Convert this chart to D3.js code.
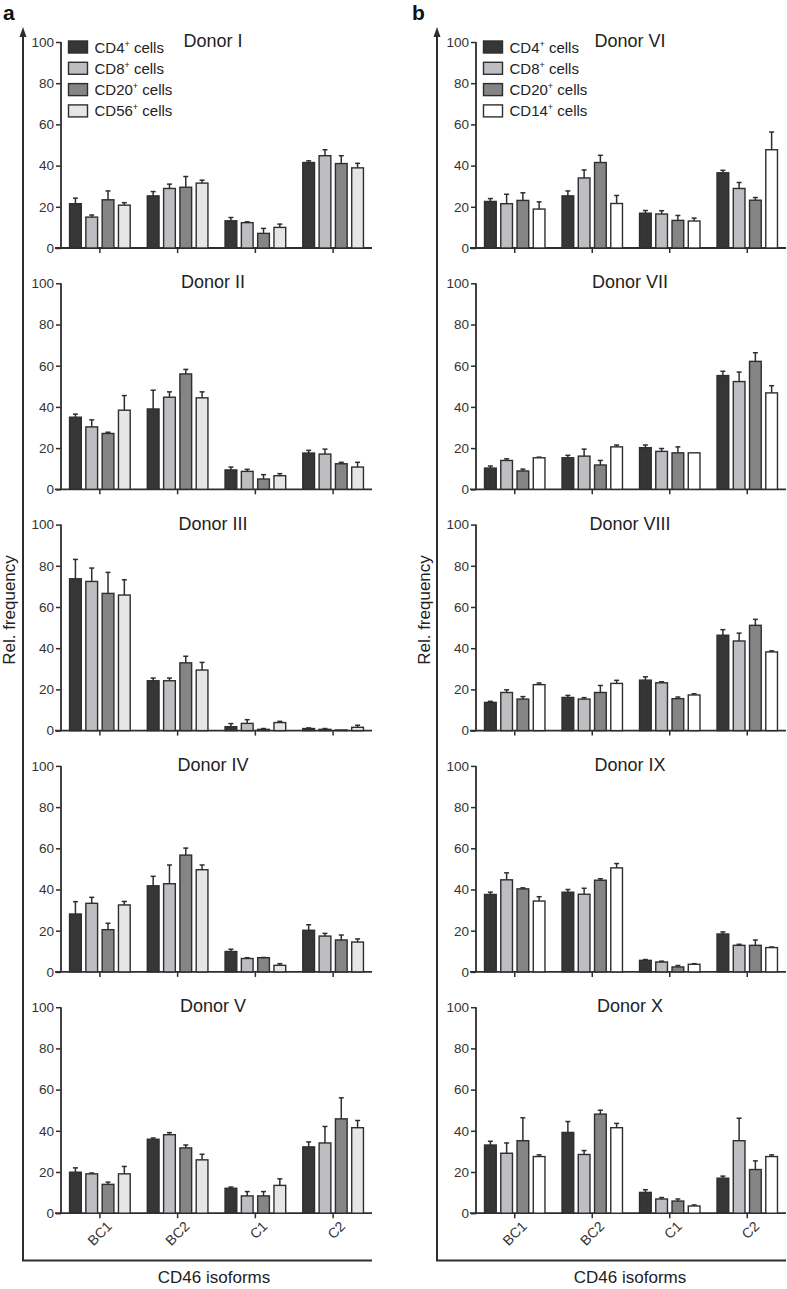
<!DOCTYPE html>
<html><head><meta charset="utf-8">
<script src="https://cdn.jsdelivr.net/npm/d3@7/dist/d3.min.js"></script>
<style>body{margin:0;background:#fff}svg{display:block}text{font-family:"Liberation Sans",Arial,sans-serif}</style>
</head><body><div id="chart"></div>
<script>
const categories = ["BC1","BC2","C1","C2"];
const seriesA = ["CD4","CD8","CD20","CD56"];
const seriesB = ["CD4","CD8","CD20","CD14"];
const yTicks = [0,20,40,60,80,100];
const donorsA = ["Donor I","Donor II","Donor III","Donor IV","Donor V"];
const donorsB = ["Donor VI","Donor VII","Donor VIII","Donor IX","Donor X"];
// rows = categories (BC1,BC2,C1,C2), columns = series
const meanI   = [[21.5,15,23.4,20.8],[25.3,28.9,29.5,31.5],[13.2,12.3,7.1,10],[41.5,44.8,41,38.9]];
const errI    = [[2.7,1,4.3,1.2],[2.1,2.1,5.2,1.4],[1.6,0.4,2.4,1.6],[0.8,2.9,3.8,2.2]];
const meanII  = [[35,30.3,27.1,38.4],[39,44.7,56,44.4],[9.4,8.7,5,6.6],[17.6,17.1,12.4,10.8]];
const errII   = [[1.5,3.4,0.6,7.1],[9.1,2.6,2.2,2.9],[1.4,1,2.1,1],[1.3,2.4,0.7,2.3]];
const meanIII = [[73.7,72.4,66.6,65.8],[24.2,24.2,32.9,29.4],[1.9,3.5,0.6,3.9],[1,0.6,0.3,1.6]];
const errIII  = [[9.4,6.5,10.2,7.4],[1.3,1.3,3.2,3.7],[1.5,1.8,0.4,0.6],[0.3,0.4,0,1]];
const meanIV  = [[28.1,33.3,20.5,32.5],[41.8,42.8,56.7,49.6],[9.9,6.5,6.9,3.2],[20.2,17.4,15.5,14.5]];
const errIV   = [[6,2.9,3.1,1.7],[4.6,9.1,3.4,2.3],[1.1,0.4,0.1,0.8],[2.7,1.3,2.4,1.5]];
const meanV   = [[19.9,19.1,14,19.1],[35.9,38.1,31.7,25.9],[12.1,8.4,8.4,13.5],[32.2,34.1,45.8,41.5]];
const errV    = [[2.1,0.4,1.1,3.6],[0.6,1,1.4,2.7],[0.6,2.1,2.1,3.2],[2.4,8,10.2,3.5]];
const meanVI  = [[22.6,21.5,23.1,18.9],[25.3,34,41.5,21.6],[16.9,16.5,13.4,13.1],[36.5,28.9,23.2,47.7]];
const errVI   = [[1.4,4.6,3.7,3.5],[2.4,3.9,3.5,3.9],[1.3,1.6,2.4,1.4],[1.2,2.9,1.3,8.6]];
const meanVII = [[10.3,14,8.9,15.3],[15.3,16.1,11.8,20.6],[20.2,18.4,17.7,17.7],[55.2,52.3,62.1,46.8]];
const errVII  = [[1,0.8,0.9,0.3],[1.2,3.4,2.2,0.9],[1.3,1.4,2.9,0],[2.1,4.6,4.2,3.5]];
const meanVIII= [[13.7,18.5,15.3,22.3],[16.1,15.3,18.5,22.9],[24.5,23.2,15.5,17.3],[46.3,43.5,51.1,38.2]];
const errVIII = [[0.5,1.3,1.2,0.8],[1,0.7,3.4,1.5],[1.6,0.5,0.8,0.6],[2.7,3.8,2.9,0.5]];
const meanIX  = [[37.6,44.7,40.3,34.4],[38.7,37.7,44.5,50.5],[5.6,4.8,2.4,3.7],[18.4,12.9,12.9,11.8]];
const errIX   = [[1.1,3.4,0.5,2.1],[1.3,2.9,0.7,2.1],[0.4,0.4,0.7,0.3],[1,0.5,2.6,0.3]];
const meanX   = [[33.1,29.1,35.2,27.5],[39.2,28.5,48.1,41.5],[10.1,6.9,5.9,3.5],[17,35.2,21.2,27.5]];
const errX    = [[1.8,5,11.1,0.8],[5.3,1.9,1.9,2.1],[1.3,0.7,1,0.5],[1,10.9,4.2,0.8]];

const meansA = [meanI,meanII,meanIII,meanIV,meanV];
const errsA = [errI,errII,errIII,errIV,errV];
const meansB = [meanVI,meanVII,meanVIII,meanIX,meanX];
const errsB = [errVI,errVII,errVIII,errIX,errX];

const colorMap = {CD4:"#363636",CD8:"#bebec2",CD20:"#858585",CD56:"#e6e6e6",CD14:"#ffffff"};
const ink = "#2e2e2e";
const FF = '"Liberation Sans", Arial, sans-serif';

const W=787,H=1289;
const svg = d3.select("#chart").append("svg").attr("width",W).attr("height",H);

function column(cfg){
  const {outerX,axisX,xEnd,series,donors,means,errs,letter,letterX,relX,labelX,titleX} = cfg;
  const g = svg.append("g");
  g.append("line").attr("x1",outerX).attr("x2",outerX).attr("y1",34).attr("y2",1260.5)
    .attr("stroke",ink).attr("stroke-width",2);
  g.append("path").attr("d",`M${outerX-3.5},37 L${outerX},27 L${outerX+3.5},37 Z`).attr("fill",ink);
  g.append("line").attr("x1",outerX-1).attr("x2",xEnd).attr("y1",1260.5).attr("y2",1260.5)
    .attr("stroke",ink).attr("stroke-width",2);
  g.append("text").attr("x",labelX).attr("y",1283).attr("text-anchor","middle")
    .style("font-size","17px").attr("fill","#222").text("CD46 isoforms");
  g.append("text").attr("transform",`translate(${relX},610) rotate(-90)`).attr("text-anchor","middle")
    .style("font-size","17px").attr("fill","#222").text("Rel. frequency");
  g.append("text").attr("x",letterX).attr("y",20).style("font-size","21px").attr("font-weight","bold")
    .attr("fill","#111").text(letter);

  const x0 = d3.scaleBand().domain(categories).range([axisX,xEnd]).paddingInner(0.22).paddingOuter(0.11);
  const x1 = d3.scaleBand().domain(series).range([0,x0.bandwidth()]).paddingInner(0.28);

  donors.forEach((name,i)=>{
    const y0 = 248 + i*241.3;
    const y = d3.scaleLinear().domain([0,100]).range([y0,y0-206]);
    const p = g.append("g");
    const ya = p.append("g").attr("transform",`translate(${axisX},0)`)
      .call(d3.axisLeft(y).tickValues(yTicks).tickSize(5).tickPadding(2));
    ya.attr("font-size",null).attr("font-family",null);
    ya.select(".domain").attr("stroke",ink).attr("stroke-width",1.8).attr("d",`M0,${y(100)}V${y(0)}`);
    ya.selectAll(".tick line").attr("stroke",ink).attr("stroke-width",1.5);
    ya.selectAll(".tick text").style("font-size","13.5px").style("font-family",FF).attr("fill","#333");
    const xa = p.append("g").attr("transform",`translate(0,${y0})`)
      .call(d3.axisBottom(x0).tickSize(5));
    xa.attr("font-size",null).attr("font-family",null);
    xa.select(".domain").attr("stroke",ink).attr("stroke-width",1.8).attr("d",`M${axisX-6},0H${xEnd}`);
    xa.selectAll(".tick line").attr("stroke",ink).attr("stroke-width",1.5);
    if(i===4){
      xa.selectAll(".tick text").style("font-size","14px").style("font-family",FF).attr("fill","#333")
        .attr("text-anchor","end").attr("dy",null).attr("y",0)
        .attr("transform","translate(13,14) rotate(-45)");
    } else {
      xa.selectAll(".tick text").remove();
    }
    p.append("text").attr("x",titleX).attr("y",y(100)+5).attr("text-anchor","middle")
      .style("font-size","18px").attr("fill","#222").text(name);
    const rows = [];
    categories.forEach((c,ci)=>series.forEach((s,si)=>rows.push({c,s,v:means[i][ci][si],e:errs[i][ci][si]})));
    const bw = x1.bandwidth();
    p.selectAll("rect.bar").data(rows).enter().append("rect")
      .attr("x",d=>x0(d.c)+x1(d.s)).attr("width",bw)
      .attr("y",d=>y(d.v)).attr("height",d=>y(0)-y(d.v))
      .attr("fill",d=>colorMap[d.s]).attr("stroke",ink).attr("stroke-width",1.4);
    const eb = p.selectAll("g.err").data(rows.filter(d=>d.e>0)).enter().append("g");
    eb.append("line").attr("x1",d=>x0(d.c)+x1(d.s)+bw/2).attr("x2",d=>x0(d.c)+x1(d.s)+bw/2)
      .attr("y1",d=>y(d.v)).attr("y2",d=>y(d.v+d.e)).attr("stroke",ink).attr("stroke-width",1.5);
    eb.append("line").attr("x1",d=>x0(d.c)+x1(d.s)+bw/2-2.5).attr("x2",d=>x0(d.c)+x1(d.s)+bw/2+2.5)
      .attr("y1",d=>y(d.v+d.e)).attr("y2",d=>y(d.v+d.e)).attr("stroke",ink).attr("stroke-width",1.5);
    if(i===0){
      const lg = p.append("g").attr("transform",`translate(${axisX+7.5},41)`);
      series.forEach((s,si)=>{
        const r = lg.append("g").attr("transform",`translate(0,${si*21.3})`);
        r.append("rect").attr("x",0).attr("y",0).attr("width",19).attr("height",12)
          .attr("fill",colorMap[s]).attr("stroke",ink).attr("stroke-width",1.4);
        const t = r.append("text").attr("x",26).attr("y",11.5).style("font-size","15px").attr("fill","#222");
        t.append("tspan").text(s);
        t.append("tspan").style("font-size","9px").attr("dy",-6).text("+");
        t.append("tspan").attr("dy",6).text(" cells");
      });
    }
  });
}

column({outerX:23,axisX:61,xEnd:372,series:seriesA,donors:donorsA,means:meansA,errs:errsA,
  letter:"a",letterX:3,relX:15,labelX:214,titleX:213});
column({outerX:437,axisX:476,xEnd:786,series:seriesB,donors:donorsB,means:meansB,errs:errsB,
  letter:"b",letterX:412,relX:430,labelX:630,titleX:630});
</script></body></html>
